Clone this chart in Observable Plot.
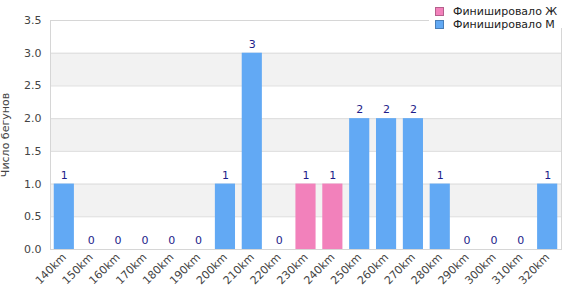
<!DOCTYPE html>
<html>
<head>
<meta charset="utf-8">
<script src="https://cdn.jsdelivr.net/npm/d3@7"></script>
<script src="https://cdn.jsdelivr.net/npm/@observablehq/plot@0.6"></script>
<style>
  html, body { margin: 0; padding: 0; background: white; }
  #wrap { position: relative; width: 570px; height: 300px; font-family: "DejaVu Sans", sans-serif; }
  #legend { position: absolute; left: 429px; top: 0; width: 133px; height: 28px; background: white; font-size: 11px; color: #222; }
  .item { position: absolute; left: 6px; display: flex; align-items: center; height: 13px; }
  .sw { width: 7px; height: 7px; margin-right: 9px; border: 1px solid rgba(0,0,0,0.25); }
</style>
</head>
<body>
<div id="wrap"><div id="legend"></div></div>
<script>
const categories = ["140km","150km","160km","170km","180km","190km","200km","210km","220km","230km","240km","250km","260km","270km","280km","290km","300km","310km","320km"];
const seriesNames = ["Финишировало Ж", "Финишировало М"];
const female = [0,0,0,0,0,0,0,0,0,1,1,0,0,0,0,0,0,0,0];
const male   = [1,0,0,0,0,0,1,3,0,0,0,2,2,2,1,0,0,0,1];
const colors = ["#f281bb", "#62a9f4"];
const yTicks = [0, 0.5, 1, 1.5, 2, 2.5, 3, 3.5];

const data = categories.flatMap((c, i) => [
  {cat: c, series: seriesNames[0], value: female[i]},
  {cat: c, series: seriesNames[1], value: male[i]}
]);
const totals = categories.map((c, i) => ({cat: c, total: female[i] + male[i]}));
const bands = [];
for (let i = 1; i < yTicks.length - 1; i += 2) bands.push({y1: yTicks[i], y2: yTicks[i + 1]});

const chart = Plot.plot({
  width: 570, height: 300,
  marginLeft: 50, marginRight: 9, marginTop: 20, marginBottom: 51,
  style: {fontFamily: "DejaVu Sans, sans-serif", fontSize: "11px", color: "#444", background: "white"},
  x: {domain: categories, paddingInner: 0.25, paddingOuter: 0.14, round: false, label: null, tickRotate: -45, tickSize: 0, tickPadding: 6},
  y: {domain: [0, 3.5], ticks: yTicks, tickFormat: d => d.toFixed(1), label: "Число бегунов", labelAnchor: "center", labelArrow: "none", labelOffset: 49, tickSize: 0, tickPadding: 9},
  color: {domain: seriesNames, range: colors},
  marks: [
    Plot.rect(bands, {y1: "y1", y2: "y2", fill: "#f2f2f2"}),
    Plot.ruleY(yTicks, {stroke: "#dcdcdc"}),
    Plot.frame({stroke: "#d6d6d6"}),
    Plot.barY(data, {x: "cat", y: "value", fill: "series"}),
    Plot.text(totals, {x: "cat", y: "total", text: d => String(d.total), dy: -9, fill: "#1d1d8a", fontSize: 11})
  ]
});
document.getElementById("wrap").insertBefore(chart, document.getElementById("legend"));

const legend = document.getElementById("legend");
seriesNames.forEach((s, i) => {
  const it = document.createElement("div");
  it.className = "item";
  it.style.top = (5 + i * 13) + "px";
  const sw = document.createElement("div");
  sw.className = "sw";
  sw.style.background = colors[i];
  const t = document.createElement("span");
  t.textContent = s;
  it.appendChild(sw); it.appendChild(t);
  legend.appendChild(it);
});
</script>
</body>
</html>
